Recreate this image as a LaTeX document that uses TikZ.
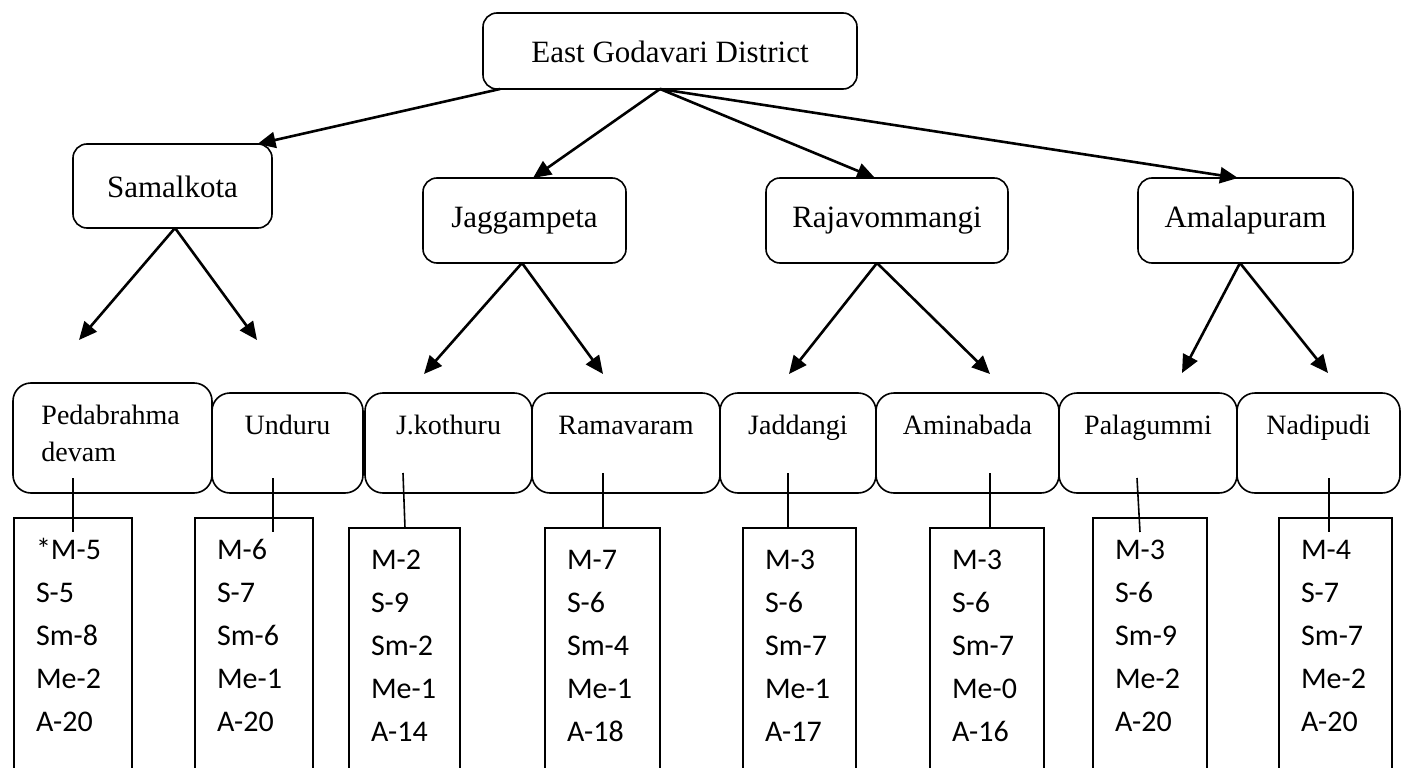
\documentclass[tikz,border=0pt]{standalone}
\usepackage{fontspec}
\setmainfont{Liberation Serif}
\newfontfamily\countfont{Carlito}
\usetikzlibrary{arrows.meta,positioning}

\tikzset{
  every node/.style={outer sep=0pt},
  district/.style={draw, line width=1.6pt, rounded corners=14pt, inner sep=0pt, anchor=north west,
    font={\fontsize{31}{36}\selectfont}},
  mandal/.style={district, text height=49pt, text depth=36pt},
  village/.style={draw, line width=1.6pt, rounded corners=18pt, inner sep=0pt, anchor=south west,
    text height=41pt, text depth=59pt, font={\fontsize{28}{37}\selectfont}},
  counts/.style={draw, line width=1.6pt, anchor=north west, inner xsep=22pt, inner ysep=0pt,
    text height=41pt, text depth=230pt, align=left, font={\countfont\fontsize{30}{43}\selectfont}},
  branch/.style={line width=2.6pt, -{Triangle[length=18pt,width=16pt]}},
  link/.style={line width=1.6pt}
}

\begin{document}
\begin{tikzpicture}[x=1pt,y=-1pt]
        \useasboundingbox (0,0) rectangle (1401,768);

        \node[district, text height=50pt, text depth=26pt, minimum width=374pt] (egd) at (483,13) {East Godavari District};

        \node[mandal, text height=53pt, text depth=31pt, minimum width=199pt] (samalkota) at (73,144) {Samalkota};
        \node[mandal, minimum width=203pt] (jaggampeta) at (423,178) {Jaggampeta};
        \node[mandal, minimum width=242pt] (rajavommangi) at (766,178) {Rajavommangi};
        \node[mandal, minimum width=215pt] (amalapuram) at (1138,178) {Amalapuram};

        \node[village, text depth=69pt, text width=142pt, align=left, minimum width=199pt] (pedabrahma) at (13,493) {Pedabrahma\\devam};
        \node[village, minimum width=151pt] (unduru) at (pedabrahma.south east) {Unduru};
        \node[village, minimum width=167pt] (jkothuru) at ([xshift=2pt]unduru.south east) {J.kothuru};
        \node[village, minimum width=188pt] (ramavaram) at (jkothuru.south east) {Ramavaram};
        \node[village, minimum width=156pt] (jaddangi) at (ramavaram.south east) {Jaddangi};
        \node[village, minimum width=183pt] (aminabada) at (jaddangi.south east) {Aminabada};
        \node[village, minimum width=178pt] (palagummi) at (aminabada.south east) {Palagummi};
        \node[village, minimum width=163pt] (nadipudi) at (palagummi.south east) {Nadipudi};

        \node[counts, text width=74pt] (pedabrahma data) at (14,518) {*M-5\\S-5\\Sm-8\\Me-2\\A-20};
        \node[counts, text width=74pt] (unduru data) at (195,518) {M-6\\S-7\\Sm-6\\Me-1\\A-20};
        \node[counts, text width=67pt] (jkothuru data) at (349,528) {M-2\\S-9\\Sm-2\\Me-1\\A-14};
        \node[counts, text width=71pt] (ramavaram data) at (545,528) {M-7\\S-6\\Sm-4\\Me-1\\A-18};
        \node[counts, text width=69pt] (jaddangi data) at (743,528) {M-3\\S-6\\Sm-7\\Me-1\\A-17};
        \node[counts, text width=70pt] (aminabada data) at (930,528) {M-3\\S-6\\Sm-7\\Me-0\\A-16};
        \node[counts, text width=70pt] (palagummi data) at (1093,518) {M-3\\S-6\\Sm-9\\Me-2\\A-20};
        \node[counts, text width=69pt] (nadipudi data) at (1279,518) {M-4\\S-7\\Sm-7\\Me-2\\A-20};

        \coordinate (to pedabrahma) at (79,340);
        \coordinate (to unduru) at (257,340);
        \coordinate (to jkothuru) at (424,374);
        \coordinate (to ramavaram) at (603,374);
        \coordinate (to jaddangi) at (789,374);
        \coordinate (to aminabada) at (990,374);
        \coordinate (to palagummi) at (1182,373);
        \coordinate (to nadipudi) at (1328,373);

        \draw[branch] ([xshift=-170pt]egd.south) -- ([xshift=85pt]samalkota.north);
        \draw[branch] ([xshift=-10pt]egd.south) -- ([xshift=8.5pt]jaggampeta.north);
        \draw[branch] ([xshift=-10pt]egd.south) -- ([xshift=-12pt]rajavommangi.north);
        \draw[branch] ([xshift=-10pt]egd.south) -- ([xshift=-7.5pt]amalapuram.north);

        \draw[branch] ([xshift=2.5pt]samalkota.south) -- (to pedabrahma);
        \draw[branch] ([xshift=2.5pt]samalkota.south) -- (to unduru);
        \draw[branch] ([xshift=-2.5pt]jaggampeta.south) -- (to jkothuru);
        \draw[branch] ([xshift=-2.5pt]jaggampeta.south) -- (to ramavaram);
        \draw[branch] ([xshift=-10pt]rajavommangi.south) -- (to jaddangi);
        \draw[branch] ([xshift=-10pt]rajavommangi.south) -- (to aminabada);
        \draw[branch] ([xshift=-5.5pt]amalapuram.south) -- (to palagummi);
        \draw[branch] ([xshift=-5.5pt]amalapuram.south) -- (to nadipudi);

        \draw[link] ([xshift=-39.5pt,yshift=15pt]pedabrahma.south) -- ([yshift=-14pt]pedabrahma data.north);
        \draw[link] ([xshift=-14.5pt,yshift=15pt]unduru.south) -- ([xshift=19pt,yshift=-14pt]unduru data.north);
        \draw[link] ([xshift=-45.5pt,yshift=20pt]jkothuru.south) -- ([xshift=0.5pt]jkothuru data.north);
        \draw[link] ([xshift=-23pt,yshift=20pt]ramavaram.south) -- ([xshift=0.5pt]ramavaram data.north);
        \draw[link] ([xshift=-10pt,yshift=20pt]jaddangi.south) -- ([xshift=-11.5pt]jaddangi data.north);
        \draw[link] ([xshift=22.5pt,yshift=20pt]aminabada.south) -- ([xshift=3pt]aminabada data.north);
        \draw[link] ([xshift=-11pt,yshift=15pt]palagummi.south) -- ([xshift=-10pt,yshift=-14pt]palagummi data.north);
        \draw[link] ([xshift=10.5pt,yshift=15pt]nadipudi.south) -- ([xshift=-6.5pt,yshift=-14pt]nadipudi data.north);
\end{tikzpicture}
\end{document}
